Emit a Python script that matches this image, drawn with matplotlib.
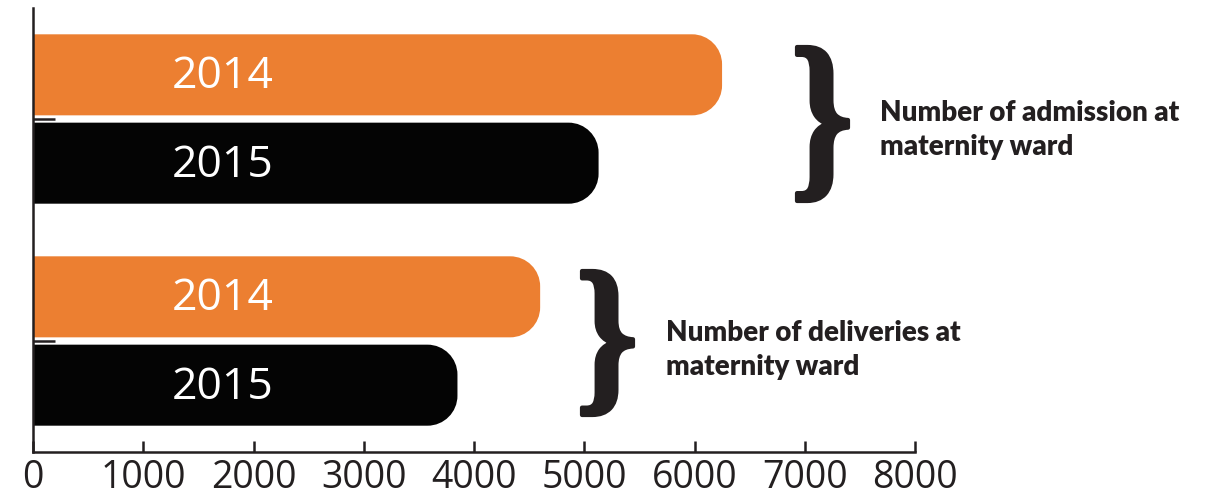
import matplotlib
matplotlib.use('Agg')
import matplotlib.pyplot as plt
from matplotlib.patches import PathPatch
from matplotlib.path import Path
from matplotlib.textpath import TextPath
from matplotlib.font_manager import FontProperties
from matplotlib.transforms import Affine2D

# Maternity ward figures, 2014 vs 2015
groups = ['Number of deliveries at\nmaternity ward', 'Number of admission at\nmaternity ward']
values_2014 = [4600, 6250]
values_2015 = [3850, 5130]
years = ['2014', '2015']
xticks = [0, 1000, 2000, 3000, 4000, 5000, 6000, 7000, 8000]

ORANGE = '#ec7f31'
BLACK = '#040404'
INK = '#231f20'

W, H = 1220, 501
fig = plt.figure(figsize=(W / 100, H / 100), dpi=100)
ax = fig.add_axes([33 / W, 49 / H, 882 / W, 444 / H])
ax.set_xlim(0, 8000)
ax.set_ylim(-0.5, 1.5)

bar_h = 0.365
offset = 0.199

# corner radius of 30 px, expressed in data units along each axis
fig.canvas.draw()
(x0, y0), (x1, y1) = ax.transData.transform([(0, 0), (1, 1)])
rx = 30 / (x1 - x0)
ry = 30 / (y1 - y0)
K = 0.5523


def rounded_bar(y, value, color):
    yb, yt = y - bar_h / 2, y + bar_h / 2
    verts = [(0, yb), (value - rx, yb),
             (value - rx + K * rx, yb), (value, yb + ry - K * ry), (value, yb + ry),
             (value, yt - ry),
             (value, yt - ry + K * ry), (value - rx + K * rx, yt), (value - rx, yt),
             (0, yt), (0, yb)]
    codes = [Path.MOVETO, Path.LINETO,
             Path.CURVE4, Path.CURVE4, Path.CURVE4,
             Path.LINETO,
             Path.CURVE4, Path.CURVE4, Path.CURVE4,
             Path.LINETO, Path.CLOSEPOLY]
    ax.add_patch(PathPatch(Path(verts, codes), fc=color, ec='none', zorder=2))


for i in range(len(groups)):
    for val, col, yr, dy in [(values_2014[i], ORANGE, years[0], offset),
                             (values_2015[i], BLACK, years[1], -offset)]:
        rounded_bar(i + dy, val, col)
        ax.text(1720, i + dy - 0.01, yr, color='white', ha='center', va='center',
                fontsize=32, family='Open Sans', zorder=3)

# axes styling
for side in ['top', 'right']:
    ax.spines[side].set_visible(False)
for side in ['left', 'bottom']:
    ax.spines[side].set_color(INK)
    ax.spines[side].set_linewidth(1.8)
ax.set_xticks(xticks)
ax.set_xticklabels([str(t) for t in xticks], family='Open Sans', fontsize=27, color=INK)
ax.tick_params(axis='x', direction='in', length=8, width=1.8, color=INK, pad=5)
ax.set_yticks([0, 1])
ax.set_yticklabels([])
ax.tick_params(axis='y', direction='in', length=16, width=1.8, color=INK)
ax.patch.set_alpha(0)


# curly braces and group labels
def brace(left, top, width, height):
    tp = TextPath((0, 0), '}', prop=FontProperties(family='Liberation Serif', weight='bold'), size=100)
    ext = tp.get_extents()
    tr = (Affine2D().translate(-ext.x0, -ext.y0)
          .scale((width - 4) / ext.width, (height - 4) / ext.height)
          .translate(left + 2, H - top - height + 2))
    fig.add_artist(PathPatch(tr.transform_path(tp), fc=INK, ec=INK, lw=3,
                             joinstyle='round', transform=None))


brace(795, 45, 55, 158)
brace(580, 269, 55, 148)

label_pos = [(666, 375), (880, 155)]
for (lx, ly), g in zip(label_pos, groups):
    fig.text(lx / W, 1 - ly / H, g, ha='left', va='baseline', fontsize=20,
             fontweight='heavy', family='Lato', color=INK, linespacing=1.39)

fig.savefig('out.png', dpi=100)
